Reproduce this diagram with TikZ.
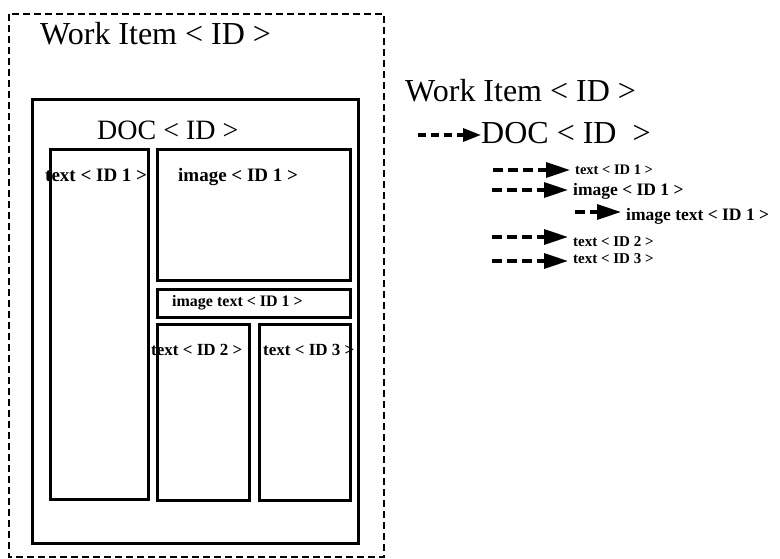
\documentclass[tikz,border=0pt]{standalone}
\usepackage{fontspec}
\setmainfont{Liberation Serif}
\usetikzlibrary{arrows.meta}

\begin{document}
\begin{tikzpicture}[x=1pt,y=-1pt,
  box/.style={line width=3pt},
  frame/.style={line width=2.8pt, dash pattern=on 7pt off 4pt},
  big/.style={font=\fontsize{32}{36}\selectfont, inner sep=0pt, anchor=base west},
  doc/.style={font=\fontsize{28}{32}\selectfont, inner sep=0pt, anchor=base west},
  lbl/.style={font=\bfseries\fontsize{#1}{#1}\selectfont, inner sep=0pt, anchor=base west},
  link/.style={line width=3.2pt, dash pattern=on 10pt off 5pt, shorten >=5pt,
    -{Triangle[length=24pt,width=15pt]}}]
      \useasboundingbox (0,0) rectangle (780,559);
      % Page layout:
      \draw[frame] (9,14) rectangle (384,557);
      \draw[box] (32,100) rectangle (358,543);
      \draw[box] (50,150) rectangle (148,499);
      \draw[box] (157,150) rectangle (350,280);
      \draw[box] (157,289) rectangle (350,317);
      \draw[box] (157,324) rectangle (249,500);
      \draw[box] (259,324) rectangle (350,500);
      \node[big] (item) at (40,45) {Work Item < ID >};
      \node[doc] (doc) at (97,140) {DOC < ID >};
      \node[lbl=19] (text1) at (45,182) {text < ID 1 >};
      \node[lbl=19] (image1) at (178,182) {image < ID 1 >};
      \node[lbl=16] (imtext1) at (172,306) {image text < ID 1 >};
      \node[lbl=17] (text2) at (151,355) {text < ID 2 >};
      \node[lbl=17] (text3) at (263,355) {text < ID 3 >};
      %
      % Tree:
      \node[big] (ritem) at (405,102) {Work Item < ID >};
      \node[big] (rdoc) at (481,144) {DOC < ID \ >};
      \node[lbl=14.5] (rtext1) at (575,175) {text < ID 1 >};
      \node[lbl=17.5] (rimage1) at (573,196) {image < ID 1 >};
      \node[lbl=17.5] (rimtext1) at (626,221) {image text < ID 1 >};
      \node[lbl=15] (rtext2) at (573,247) {text < ID 2 >};
      \node[lbl=15] (rtext3) at (573,263) {text < ID 3 >};
      \coordinate (d0) at (418,135);
      \coordinate (t1) at (493,170);
      \coordinate (i1) at (492,190);
      \coordinate (it1) at (575,212);
      \coordinate (t2) at (492,237);
      \coordinate (t3) at (492,261);
      \draw[link, shorten >=0pt, dash pattern=on 8pt off 5pt,
        -{Triangle[length=18pt,width=13pt]}] (d0) -- (d0 -| rdoc.west);
      \draw[link] (t1) -- (t1 -| rtext1.west);
      \draw[link] (i1) -- (i1 -| rimage1.west);
      \draw[link] (it1) -- (it1 -| rimtext1.west);
      \draw[link] (t2) -- (t2 -| rtext2.west);
      \draw[link] (t3) -- (t3 -| rtext3.west);
\end{tikzpicture}
\end{document}
